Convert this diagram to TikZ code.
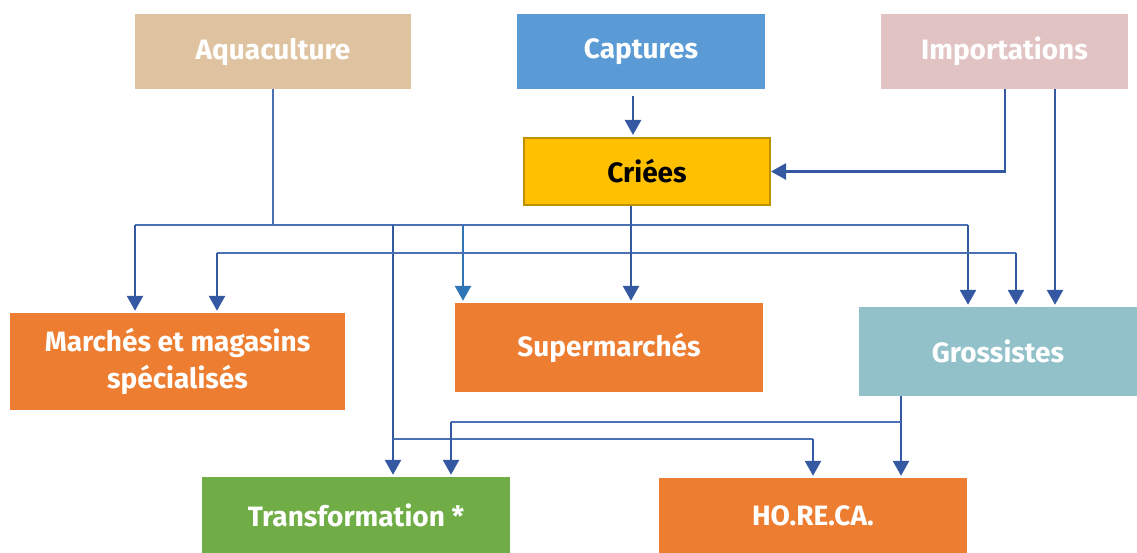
\documentclass[tikz,border=0pt]{standalone}
\usepackage{fontspec}
\setmainfont{Fira Sans}
\usetikzlibrary{arrows.meta}
\definecolor{cAqua}{HTML}{DFC3A0}
\definecolor{cCap}{HTML}{5B9BD5}
\definecolor{cImp}{HTML}{E2C3C3}
\definecolor{cCri}{HTML}{FFC000}
\definecolor{cCriB}{HTML}{BF9000}
\definecolor{cOr}{HTML}{ED7D31}
\definecolor{cGro}{HTML}{92C1C9}
\definecolor{cGreen}{HTML}{70AD47}
\definecolor{cLine}{HTML}{3558A3}
\definecolor{cHLine}{HTML}{4C70B4}
\definecolor{cLight}{HTML}{2E75B6}
\tikzset{
  box/.style={draw=none, inner sep=0pt, align=center, text=white,
    font=\fontsize{28}{37}\selectfont\bfseries},
  arr/.style={draw=cLine, line width=2.6pt, -{Triangle[width=16pt,length=15pt]}, shorten >=2pt},
  hline/.style={draw=cHLine, line width=1.9pt},
}
\begin{document}
\begin{tikzpicture}[x=1pt,y=-1pt]
\useasboundingbox (0,0) rectangle (1137,553);
% boxes
\node[box, fill=cAqua, minimum width=276pt, minimum height=75pt] (aq) at (273,51.5) {Aquaculture};
\node[box, fill=cCap, minimum width=248pt, minimum height=75pt] (cap) at (641,51.5) {Captures};
\node[box, fill=cImp, minimum width=247pt, minimum height=75pt] (imp) at (1004.5,51.5) {Importations};
\node[box, fill=cCri, draw=cCriB, line width=2pt, text=black, minimum width=246pt, minimum height=67pt] (cri) at (647,171.5) {Criées};
\node[box, fill=cOr, minimum width=335pt, minimum height=97pt] (mar) at (177.5,361.5) {Marchés et magasins\\spécialisés};
\node[box, fill=cOr, minimum width=308pt, minimum height=89pt] (sup) at (609,347.5) {Supermarchés};
\node[box, fill=cGro, minimum width=278pt, minimum height=89pt] (gro) at (998,351.5) {Grossistes};
\node[box, fill=cGreen, minimum width=308pt, minimum height=76pt] (tra) at (356,515) {Transformation *};
\node[box, fill=cOr, minimum width=308pt, minimum height=75pt] (hor) at (813,515.5) {HO.RE.CA.};
% coordinates
\coordinate (aqJ) at (273,225);
\coordinate (aqL) at (135,225);
\coordinate (aqR) at (968,225);
\coordinate (aqS) at (463,225);
\coordinate (aqT) at (393,225);
\coordinate (aqTb) at (393,439);
\coordinate (aqH) at (813,439);
\coordinate (crL) at (217,253);
\coordinate (crR) at (1016,253);
\coordinate (crJ) at (631,253);
\coordinate (grJ) at (901,422);
\coordinate (grT) at (451,422);
% Captures -> Criees
\draw[arr] ([xshift=-8pt,yshift=-7pt]cap.south) -- ([xshift=-8pt]cap.south |- cri.north);
% Importations -> Criees
\draw[arr, shorten >=0pt] ([xshift=0.5pt]imp.south) |- (cri.east);
% Importations -> Grossistes
\draw[arr] ([xshift=50.5pt]imp.south) coordinate (i2) -- (i2 |- gro.north);
% Aquaculture
\draw[hline] (aq.south) -- (aqJ);
\draw[hline] (aqL) -- (aqR);
\draw[arr] (aqL) -- (aqL |- mar.north);
\draw[arr, draw=cLight] (aqS) -- (aqS |- sup.north);
\draw[arr] (aqR) -- (aqR |- gro.north);
\draw[arr] (aqT) -- (aqT |- tra.north);
\draw[hline] (aqTb) -- (aqH);
\draw[arr] (aqH) -- (aqH |- hor.north);
% Criees
\draw[hline] (crL) -- (crR);
\draw[arr] (cri.south -| crJ) -- (crJ |- sup.north);
\draw[arr] (crL) -- (crL |- mar.north);
\draw[arr] (crR) -- (crR |- gro.north);
% Grossistes
\draw[arr] (gro.south -| grJ) -- (grJ |- hor.north);
\draw[hline] (grJ) -- (grT);
\draw[arr] (grT) -- (grT |- tra.north);
\end{tikzpicture}
\end{document}
